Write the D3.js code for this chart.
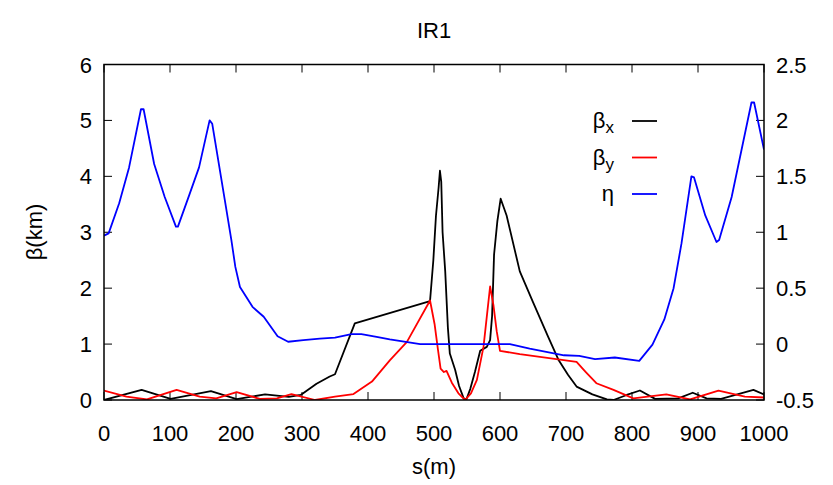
<!DOCTYPE html>
<html><head><meta charset="utf-8">
<script src="https://cdn.jsdelivr.net/npm/d3@7"></script>
<style>body{margin:0;background:#fff}svg text{font-family:"Liberation Sans",Arial,sans-serif}</style>
</head><body>
<svg id="c" width="833" height="485"></svg>
<script>
const title = "IR1";
const xTicks = [0,100,200,300,400,500,600,700,800,900,1000];
const yTicks = [0,1,2,3,4,5,6];
const y2Ticks = [-0.5,0,0.5,1,1.5,2,2.5];

const betaX_s = [0,57,101,162,201,244,280,298,322,342,350,380,494,499,503,507,509,511,513,517,521,524,532,538,545,549,555,562,570,580,585,588,591,596,601,610,630,650,673,689,703,716,740,762,772,792,812,835,870,892,913,935,984,1000];
const betaX_v = [0,0.18,0.02,0.16,0.015,0.1,0.055,0.09,0.29,0.42,0.46,1.37,1.77,2.5,3.3,3.8,4.1,3.9,3.0,2.3,1.3,0.83,0.54,0.25,0.03,0.01,0.2,0.5,0.88,0.95,1.07,1.5,2.6,3.2,3.6,3.3,2.3,1.75,1.13,0.71,0.45,0.24,0.1,0.01,0,0.09,0.17,0.02,0.03,0.13,0.03,0.02,0.18,0.1];

const betaY_s = [0,34,65,110,145,170,201,236,262,284,320,350,378,406,433,459,494,501,506,510,515,519,527,537,547,556,565,575,581,585,590,595,600,630,716,730,746,772,802,852,888,931,971,1000];
const betaY_v = [0.17,0.06,0.01,0.18,0.06,0.03,0.14,0.02,0.03,0.105,0,0.06,0.107,0.33,0.71,1.04,1.78,1.35,0.9,0.56,0.5,0.52,0.31,0.12,0,0.12,0.36,0.95,1.6,2.03,1.7,1.23,0.88,0.82,0.68,0.5,0.3,0.18,0.03,0.1,0.01,0.166,0.06,0.045];

const eta_s = [0,7,23,38,56,60,76,92,109,112,129,144,160,164,183,193,199,206,225,242,263,279,302,327,350,375,390,413,433,479,615,645,697,720,744,774,811,831,849,863,875,890,894,911,928,932,951,981,985,1000];
const eta_v = [0.97,0.99,1.26,1.58,2.1,2.1,1.61,1.315,1.05,1.05,1.33,1.58,2.0,1.97,1.29,0.93,0.69,0.51,0.333,0.244,0.07,0.021,0.036,0.048,0.057,0.089,0.089,0.065,0.042,0,0,-0.04,-0.1,-0.105,-0.134,-0.12,-0.15,-0.005,0.22,0.5,0.9,1.5,1.49,1.15,0.913,0.93,1.315,2.16,2.16,1.74];

const svg = d3.select("#c");
const L=104, R=764, T=64.5, B=400;
const x = d3.scaleLinear().domain([0,1000]).range([L,R]);
const y = d3.scaleLinear().domain([0,6]).range([B,T]);
const y2 = d3.scaleLinear().domain([-0.5,2.5]).range([B,T]);
const fs = 22;

// ticks
const tl = 8;
const g = svg.append("g").attr("stroke","#000").attr("stroke-width",1);
xTicks.forEach(v=>{
  g.append("line").attr("x1",x(v)).attr("x2",x(v)).attr("y1",B).attr("y2",B-tl);
  g.append("line").attr("x1",x(v)).attr("x2",x(v)).attr("y1",T).attr("y2",T+tl);
});
yTicks.forEach(v=>{
  g.append("line").attr("x1",L).attr("x2",L+tl).attr("y1",y(v)).attr("y2",y(v));
});
y2Ticks.forEach(v=>{
  g.append("line").attr("x1",R).attr("x2",R-tl).attr("y1",y2(v)).attr("y2",y2(v));
});

// tick labels
xTicks.forEach(v=>svg.append("text").attr("x",x(v)).attr("y",441).attr("text-anchor","middle").attr("font-size",fs).text(v));
yTicks.forEach(v=>svg.append("text").attr("x",92).attr("y",y(v)+8).attr("text-anchor","end").attr("font-size",fs).text(v));
y2Ticks.forEach(v=>svg.append("text").attr("x",776).attr("y",y2(v)+8).attr("text-anchor","start").attr("font-size",fs).text(v));

// labels
svg.append("text").attr("x",434).attr("y",38).attr("text-anchor","middle").attr("font-size",fs).text(title);
svg.append("text").attr("x",434).attr("y",474).attr("text-anchor","middle").attr("font-size",fs).text("s(m)");
svg.append("text").attr("transform","translate(42,232) rotate(-90)").attr("text-anchor","middle").attr("font-size",fs).text("β(km)");

// lines
svg.append("clipPath").attr("id","cp").append("rect").attr("x",L).attr("y",T).attr("width",R-L).attr("height",B-T);
const line1 = d3.line().x(d=>x(d[0])).y(d=>y(d[1]));
const line2 = d3.line().x(d=>x(d[0])).y(d=>y2(d[1]));
const pg = svg.append("g").attr("clip-path","url(#cp)").attr("fill","none").attr("stroke-width",1.8).attr("stroke-linejoin","round");
pg.append("path").attr("d",line1(betaX_s.map((s,i)=>[s,betaX_v[i]]))).attr("stroke","#000");
pg.append("path").attr("d",line1(betaY_s.map((s,i)=>[s,betaY_v[i]]))).attr("stroke","#ff0000");
pg.append("path").attr("d",line2(eta_s.map((s,i)=>[s,eta_v[i]]))).attr("stroke","#0000ff");

// frame
svg.append("rect").attr("x",L).attr("y",T).attr("width",R-L).attr("height",B-T).attr("fill","none").attr("stroke","#000").attr("stroke-width",1.5);

// legend
const leg = [["β","x","#000",121],["β","y","#ff0000",157.5],["η","","#0000ff",194]];
leg.forEach(d=>{
  const t = svg.append("text").attr("x",614).attr("y",d[3]+7).attr("text-anchor","end").attr("font-size",fs);
  t.append("tspan").text(d[0]);
  if(d[1]) t.append("tspan").attr("dy",5).attr("font-size",17).text(d[1]);
  svg.append("line").attr("x1",632).attr("x2",657).attr("y1",d[3]).attr("y2",d[3]).attr("stroke",d[2]).attr("stroke-width",1.8);
});
</script>
</body></html>
